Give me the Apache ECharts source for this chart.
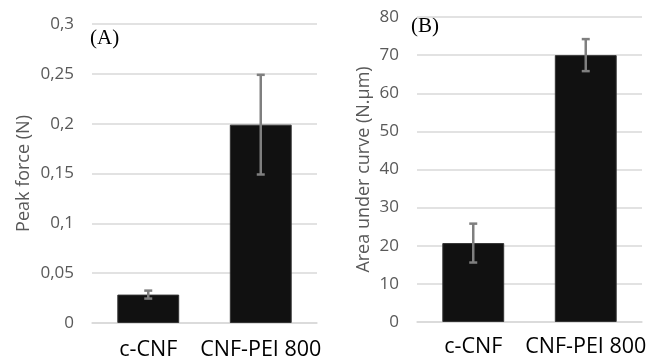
<!DOCTYPE html>
<html>
<head>
<meta charset="utf-8">
<script src="https://cdn.jsdelivr.net/npm/echarts@6/dist/echarts.min.js"></script>
<style>
  html, body { margin: 0; padding: 0; background: #fff; }
  #chart { width: 648px; height: 357px; }
</style>
</head>
<body>
<div id="chart"></div>
<script>
const categories = ['c-CNF', 'CNF-PEI 800'];
const peakForce = [0.0285, 0.199];
const peakForceErr = [0.004, 0.05];
const areaUnderCurve = [20.7, 70];
const areaUnderCurveErr = [5.1, 4.2];
const peakTicks = { min: 0, max: 0.3, interval: 0.05 };
const areaTicks = { min: 0, max: 80, interval: 10 };

const font = 'Open Sans';
const gray = '#595959';

function errData(vals, errs) {
  return vals.map((v, i) => [i, v - errs[i], v + errs[i]]);
}

function renderErr(params, api) {
  const lo = api.coord([api.value(0), api.value(1)]);
  const hi = api.coord([api.value(0), api.value(2)]);
  const cap = 4;
  const style = { stroke: '#7f7f7f', lineWidth: 2.5, fill: null };
  return {
    type: 'group',
    children: [
      { type: 'line', shape: { x1: hi[0], y1: hi[1], x2: lo[0], y2: lo[1] }, style },
      { type: 'line', shape: { x1: hi[0] - cap, y1: hi[1], x2: hi[0] + cap, y2: hi[1] }, style },
      { type: 'line', shape: { x1: lo[0] - cap, y1: lo[1], x2: lo[0] + cap, y2: lo[1] }, style }
    ]
  };
}

function xAxis(gridIndex) {
  return {
    type: 'category',
    gridIndex,
    data: categories,
    axisLine: { lineStyle: { color: '#d9d9d9', width: 1.5 } },
    axisTick: { show: false },
    axisLabel: {
      color: '#000', fontFamily: font, fontSize: 21.5, interval: 0, hideOverlap: false,
      margin: gridIndex === 0 ? 16 : 14
    }
  };
}

function yAxis(gridIndex, ticks, name, fmt) {
  return {
    type: 'value',
    gridIndex,
    min: ticks.min,
    max: ticks.max,
    interval: ticks.interval,
    name,
    nameLocation: 'middle',
    nameGap: gridIndex === 0 ? 59 : 44,
    nameTextStyle: { color: gray, fontFamily: font, fontSize: 18 },
    axisLine: { show: false },
    axisTick: { show: false },
    axisLabel: { color: gray, fontFamily: font, fontSize: 17, margin: 18, formatter: fmt },
    splitLine: { lineStyle: { color: '#d9d9d9', width: 1.5 } }
  };
}

const chart = echarts.init(document.getElementById('chart'));
chart.setOption({
  animation: false,
  grid: [
    { left: 92, right: 331, top: 24, bottom: 34, outerBoundsMode: 'none' },
    { left: 417, right: 6, top: 17, bottom: 35, outerBoundsMode: 'none' }
  ],
  xAxis: [xAxis(0), xAxis(1)],
  yAxis: [
    yAxis(0, peakTicks, 'Peak force (N)', v => String(+v.toFixed(2)).replace('.', ',')),
    yAxis(1, areaTicks, 'Area under curve (N.\u00b5m)', v => String(v))
  ],
  graphic: [
    { type: 'text', left: 90, top: 28, style: { text: '(A)', font: '21px "Liberation Serif"', fill: '#000' } },
    { type: 'text', left: 411, top: 16, style: { text: '(B)', font: '21px "Liberation Serif"', fill: '#000' } }
  ],
  series: [
    {
      type: 'bar', xAxisIndex: 0, yAxisIndex: 0, data: peakForce, barCategoryGap: '45%',
      itemStyle: { color: '#111', borderColor: '#333', borderWidth: 1 }
    },
    {
      type: 'custom', xAxisIndex: 0, yAxisIndex: 0, data: errData(peakForce, peakForceErr),
      renderItem: renderErr, z: 5
    },
    {
      type: 'bar', xAxisIndex: 1, yAxisIndex: 1, data: areaUnderCurve, barCategoryGap: '45%',
      itemStyle: { color: '#111', borderColor: '#333', borderWidth: 1 }
    },
    {
      type: 'custom', xAxisIndex: 1, yAxisIndex: 1, data: errData(areaUnderCurve, areaUnderCurveErr),
      renderItem: renderErr, z: 5
    }
  ]
});
</script>
</body>
</html>
